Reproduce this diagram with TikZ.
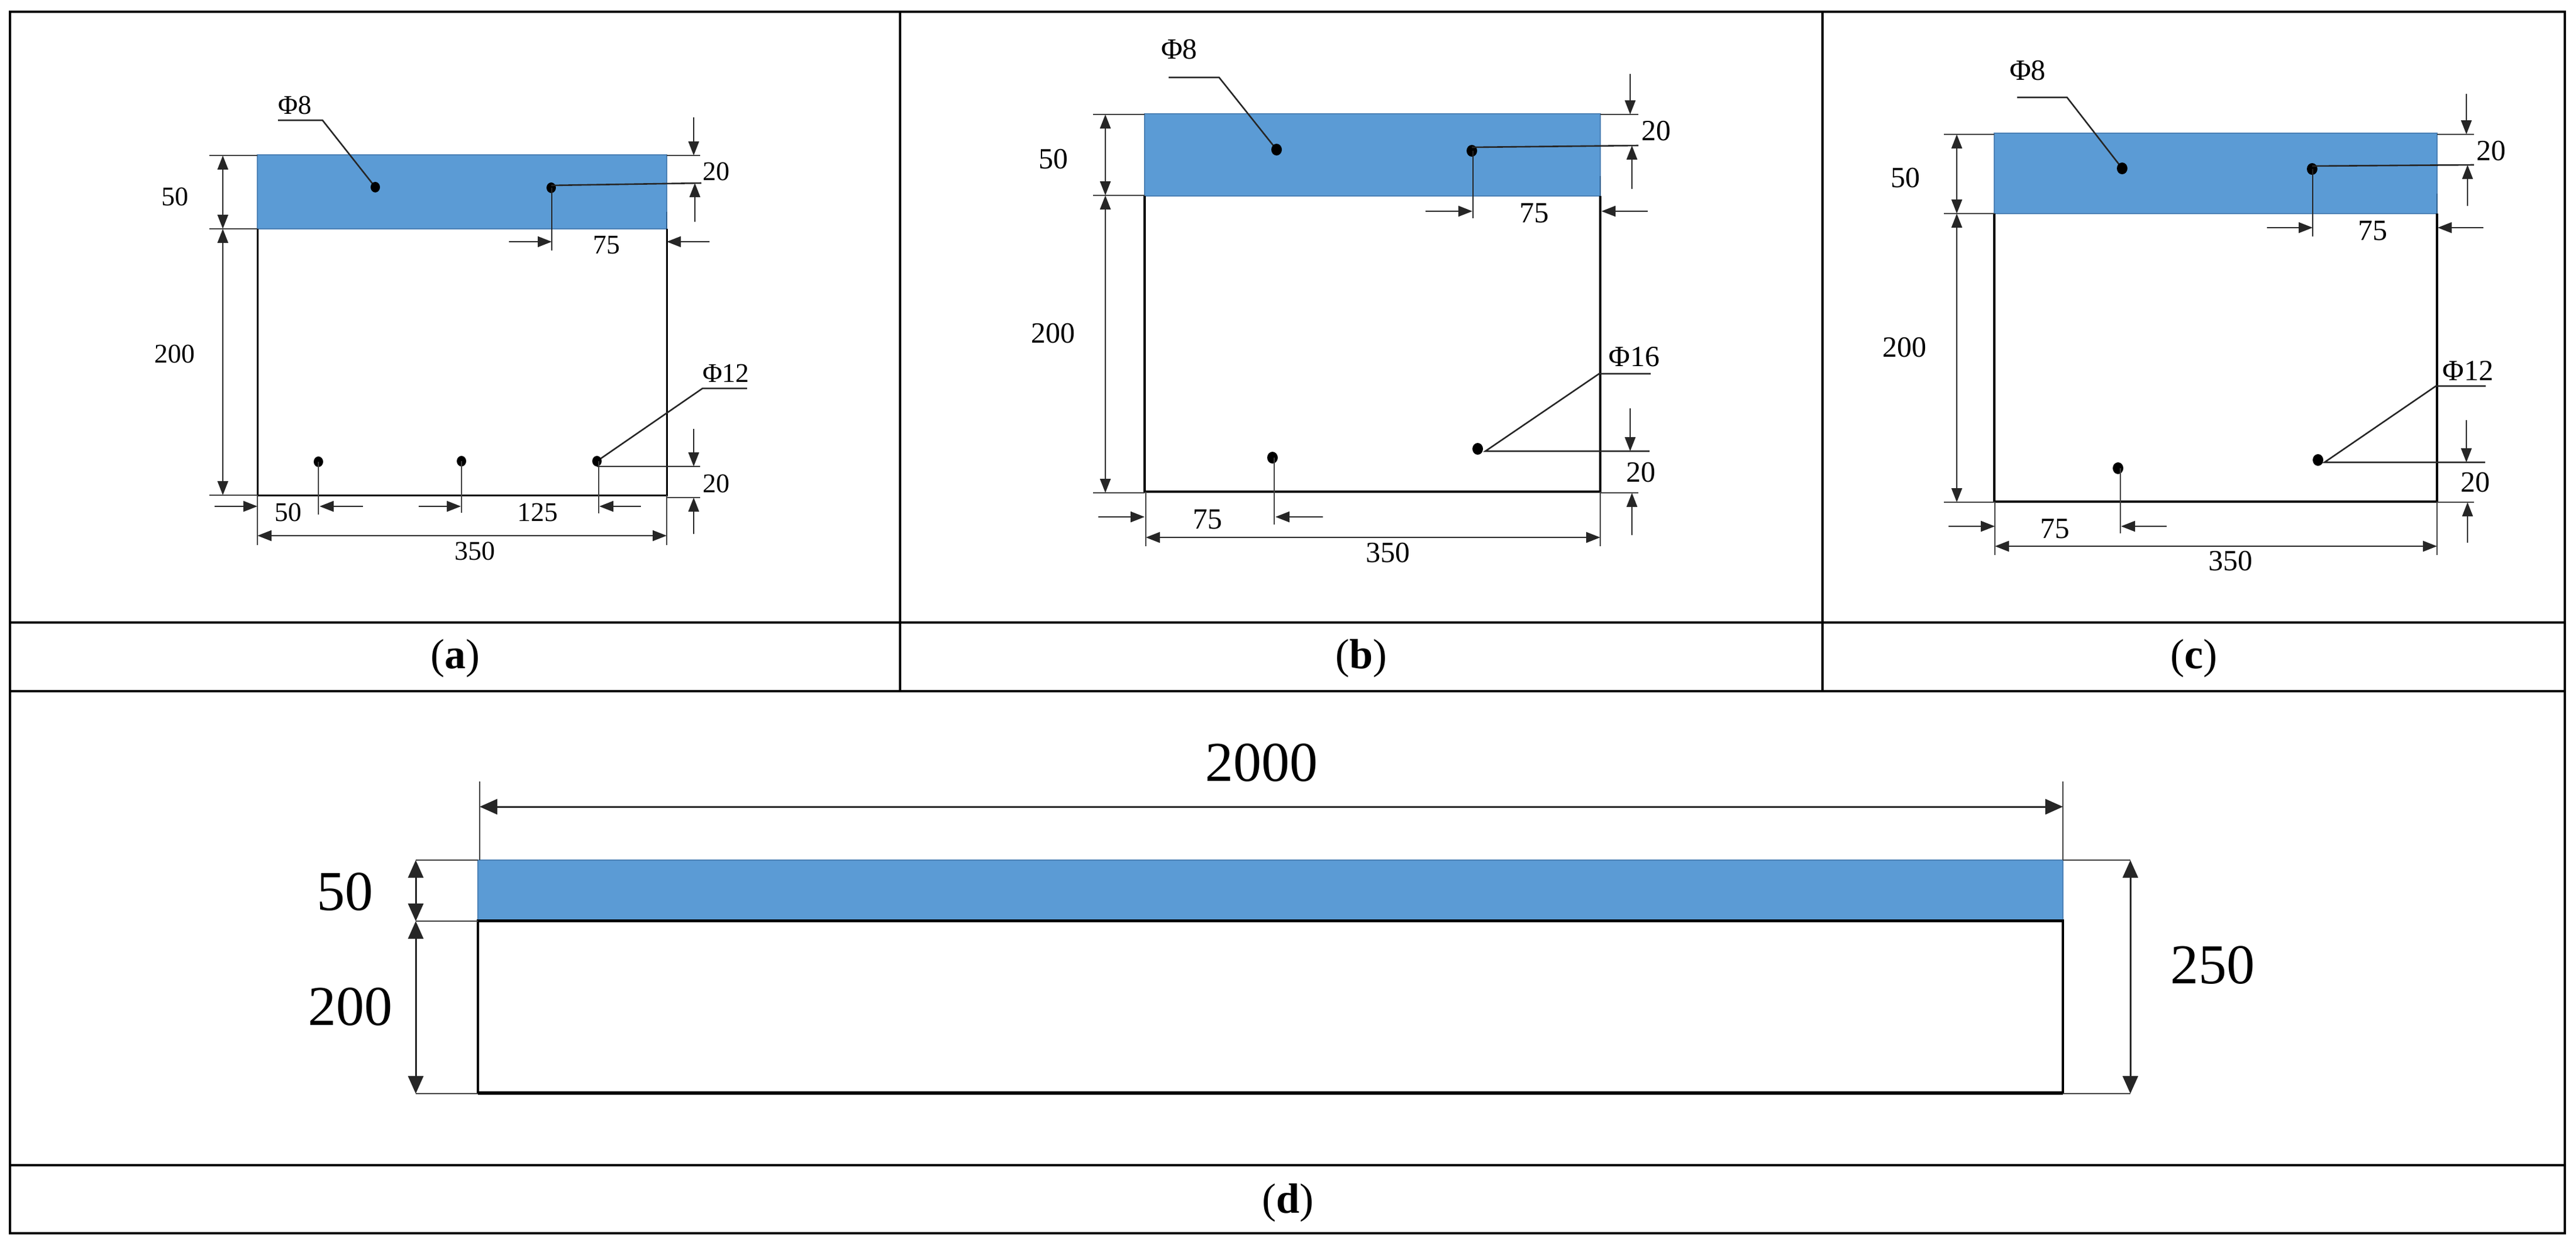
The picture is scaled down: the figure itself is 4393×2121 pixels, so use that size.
\documentclass[tikz,border=0pt]{standalone}
\usepackage{fontspec}
\setmainfont{Liberation Serif}
\usetikzlibrary{arrows.meta}
\definecolor{beamblue}{HTML}{5B9BD5}
\definecolor{beamedge}{HTML}{4A80B5}
\definecolor{stubedge}{HTML}{2F5F8F}
\tikzset{
  x=1pt,y=-1pt,
  grid line/.style={line width=4.5pt,black},
  outline/.style={line width=4pt,black},
  bluefill/.style={fill=beamblue,draw=beamedge,line width=2.5pt},
  stub/.style={line width=2.5pt,stubedge},
  thin line/.style={line width=2.6pt,black!85},
  ext line/.style={line width=2.4pt,black!75},
  dim/.style={line width=2.6pt,black!85,{Triangle[length=24pt,width=18pt]}-{Triangle[length=24pt,width=18pt]}},
  dimto/.style={line width=2.6pt,black!85,-{Triangle[length=24pt,width=18pt]}},
  bigdim/.style={line width=3pt,black!85,{Triangle[length=30pt,width=26pt]}-{Triangle[length=30pt,width=26pt]}},
  labA/.style={inner sep=0pt,font=\fontsize{46}{50}\selectfont},
  labB/.style={inner sep=0pt,font=\fontsize{50}{54}\selectfont},
  labD/.style={inner sep=0pt,font=\fontsize{96}{100}\selectfont},
  caption/.style={inner sep=0pt,font=\fontsize{72}{76}\selectfont},
  rebar/.style={fill=black},
}
\begin{document}
\begin{tikzpicture}
\useasboundingbox[fill=white] (0,0) rectangle (4393,2121);
% ---------- table
\draw[grid line] (17,20) rectangle (4374,2102);
\draw[grid line] (17,1061) -- (4374,1061);
\draw[grid line] (17,1178) -- (4374,1178);
\draw[grid line] (17,1986) -- (4374,1986);
\draw[grid line] (1535,20) -- (1535,1178);
\draw[grid line] (3108,20) -- (3108,1178);
\node[caption] (capa) at (776,1122) {(\textbf{a})};
\node[caption] (capb) at (2321,1122) {(\textbf{b})};
\node[caption] (capc) at (3741,1122) {(\textbf{c})};
\node[caption] (capd) at (2196,2050) {(\textbf{d})};

% ---------- panel a
\fill[bluefill] (439,264) rectangle (1137,390);
\draw[stub] (1137,361) -- (1137,390);
\draw[outline,line width=3pt] (439,390) -- (439,844) -- (1137,844) -- (1137,390);
\draw[ext line] (357,265) -- (439,265);
\draw[ext line] (357,390) -- (439,390);
\draw[ext line] (357,844) -- (439,844);
\draw[ext line] (1137,265) -- (1194,265);
\draw[ext line] (1137,848) -- (1194,848);
\draw[ext line] (439,844) -- (439,929);
\draw[ext line] (1137,844) -- (1137,929);
\draw[dim] (380,265) -- (380,390);
\draw[dim] (380,390) -- (380,844);
\node[labA] (a50) at (298,335) {50};
\node[labA] (a200) at (298,603) {200};
\node[labA] (aphi8) at (503,179) {Φ8};
\draw[thin line] (474,205) -- (550,205) -- (640,319);
\fill[rebar] (640,319) ellipse (8pt and 9pt);
\fill[rebar] (940,320) ellipse (8pt and 9pt);
\draw[thin line] (940,316) -- (1196,312);
\draw[thin line] (941,320) -- (941,427);
\draw[dimto] (1183,200) -- (1183,265);
\draw[dimto] (1185,378) -- (1185,312);
\node[labA] (a20t) at (1221,292) {20};
\draw[dimto] (868,412) -- (941,412);
\draw[dimto] (1210,412) -- (1137,412);
\node[labA] (a75) at (1034,418) {75};
\node[labA] (aphi12) at (1238,636) {Φ12};
\draw[thin line] (1274,662) -- (1198,662) -- (1018,786);
\fill[rebar] (543,787) ellipse (8pt and 9pt);
\fill[rebar] (787,786) ellipse (8pt and 9pt);
\fill[rebar] (1018,786) ellipse (8pt and 9pt);
\draw[ext line] (543,787) -- (543,877);
\draw[ext line] (787,786) -- (787,874);
\draw[ext line] (1021,786) -- (1021,875);
\draw[dimto] (1183,731) -- (1183,795);
\draw[thin line] (1018,795) -- (1194,795);
\draw[dimto] (1183,910) -- (1183,848);
\node[labA] (a20b) at (1221,824) {20};
\draw[dimto] (366,863) -- (439,863);
\draw[dimto] (619,863) -- (545,863);
\draw[dimto] (714,863) -- (786,863);
\draw[dimto] (1093,863) -- (1022,863);
\node[labA] (a50b) at (491,873) {50};
\node[labA] (a125) at (917,873) {125};
\draw[dim] (439,913) -- (1137,913);
\node[labA] (a350) at (810,939) {350};

% ---------- panel b
\fill[bluefill] (1952,194) rectangle (2729,334);
\draw[stub] (2729,300) -- (2729,334);
\draw[outline,line width=3.5pt] (1952,334) -- (1952,838) -- (2729,838) -- (2729,334);
\draw[ext line] (1864,195) -- (1952,195);
\draw[ext line] (1864,333) -- (1952,333);
\draw[ext line] (1864,840) -- (1952,840);
\draw[ext line] (2729,195) -- (2794,195);
\draw[ext line] (2729,840) -- (2794,840);
\draw[ext line] (1954,838) -- (1954,931);
\draw[ext line] (2729,838) -- (2729,931);
\draw[dim] (1885,195) -- (1885,333);
\draw[dim] (1885,333) -- (1885,840);
\node[labB] (b50) at (1796,271) {50};
\node[labB] (b200) at (1796,568) {200};
\node[labB] (bphi8) at (2011,84) {Φ8};
\draw[thin line] (1993,132) -- (2079,132) -- (2177,255);
\fill[rebar] (2177,255) ellipse (9pt and 10pt);
\fill[rebar] (2510,257) ellipse (9pt and 10pt);
\draw[thin line] (2510,251) -- (2794,248);
\draw[thin line] (2512,257) -- (2512,372);
\draw[dimto] (2780,126) -- (2780,195);
\draw[dimto] (2783,322) -- (2783,248);
\node[labB] (b20t) at (2824,223) {20};
\draw[dimto] (2431,360) -- (2511,360);
\draw[dimto] (2810,360) -- (2731,360);
\node[labB] (b75) at (2616,363) {75};
\node[labB] (bphi16) at (2787,608) {Φ16};
\draw[thin line] (2815,637) -- (2727,637) -- (2533,769) -- (2813,769);
\fill[rebar] (2520,765) ellipse (9pt and 10pt);
\fill[rebar] (2170,780) ellipse (9pt and 10pt);
\draw[ext line] (2173,780) -- (2173,894);
\draw[dimto] (2780,696) -- (2780,769);
\draw[dimto] (2783,912) -- (2783,840);
\node[labB] (b20b) at (2798,805) {20};
\draw[dimto] (1873,881) -- (1952,881);
\draw[dimto] (2256,881) -- (2175,881);
\node[labB] (b75b) at (2059,885) {75};
\draw[dim] (1954,916) -- (2729,916);
\node[labB] (b350) at (2367,942) {350};

% ---------- panel c
\fill[bluefill] (3401,227) rectangle (4156,364);
\draw[stub] (4156,330) -- (4156,364);
\draw[outline,line width=4pt] (3401,364) -- (3401,855) -- (4156,855) -- (4156,364);
\draw[ext line] (3315,229) -- (3401,229);
\draw[ext line] (3315,364) -- (3401,364);
\draw[ext line] (3315,856) -- (3401,856);
\draw[ext line] (4156,229) -- (4219,229);
\draw[ext line] (4156,856) -- (4219,856);
\draw[ext line] (3402,855) -- (3402,946);
\draw[ext line] (4156,855) -- (4156,946);
\draw[dim] (3337,229) -- (3337,364);
\draw[dim] (3337,364) -- (3337,856);
\node[labB] (c50) at (3249,303) {50};
\node[labB] (c200) at (3248,592) {200};
\node[labB] (cphi8) at (3458,120) {Φ8};
\draw[thin line] (3440,166) -- (3525,166) -- (3619,287);
\fill[rebar] (3619,287) ellipse (9pt and 10pt);
\fill[rebar] (3943,288) ellipse (9pt and 10pt);
\draw[thin line] (3943,283) -- (4219,281);
\draw[thin line] (3944,288) -- (3944,403);
\draw[dimto] (4206,160) -- (4206,229);
\draw[dimto] (4208,351) -- (4208,281);
\node[labB] (c20t) at (4248,257) {20};
\draw[dimto] (3866,388) -- (3944,388);
\draw[dimto] (4235,388) -- (4157,388);
\node[labB] (c75) at (4046,393) {75};
\node[labB] (cphi12) at (4209,632) {Φ12};
\draw[thin line] (4239,658) -- (4154,658) -- (3964,788) -- (4238,788);
\fill[rebar] (3953,784) ellipse (9pt and 10pt);
\fill[rebar] (3612,798) ellipse (9pt and 10pt);
\draw[ext line] (3616,798) -- (3616,909);
\draw[dimto] (4206,716) -- (4206,788);
\draw[dimto] (4208,925) -- (4208,856);
\node[labB] (c20b) at (4221,822) {20};
\draw[dimto] (3323,897) -- (3402,897);
\draw[dimto] (3695,897) -- (3617,897);
\node[labB] (c75b) at (3504,901) {75};
\draw[dim] (3402,931) -- (4156,931);
\node[labB] (c350) at (3804,956) {350};

% ---------- panel d
\fill[bluefill] (815,1466) rectangle (3518,1568);
\draw[outline,line width=4pt] (815,1569) rectangle (3518,1863);
\draw[outline,line width=5pt] (815,1569) -- (3518,1569);
\draw[outline,line width=5.5pt] (815,1863) -- (3518,1863);
\draw[ext line] (709,1466) -- (815,1466);
\draw[ext line] (709,1570) -- (815,1570);
\draw[ext line] (709,1864) -- (815,1864);
\draw[ext line] (3518,1466) -- (3633,1466);
\draw[ext line] (3518,1864) -- (3633,1864);
\draw[ext line] (818,1332) -- (818,1466);
\draw[ext line] (3518,1332) -- (3518,1466);
\draw[bigdim] (818,1375) -- (3518,1375);
\draw[bigdim] (709,1466) -- (709,1570);
\draw[bigdim] (709,1570) -- (709,1864);
\draw[bigdim] (3633,1466) -- (3633,1864);
\node[labD] (d2000) at (2151,1300) {2000};
\node[labD] (d50) at (588,1520) {50};
\node[labD] (d200) at (597,1716) {200};
\node[labD] (d250) at (3773,1645) {250};
\end{tikzpicture}
\end{document}
